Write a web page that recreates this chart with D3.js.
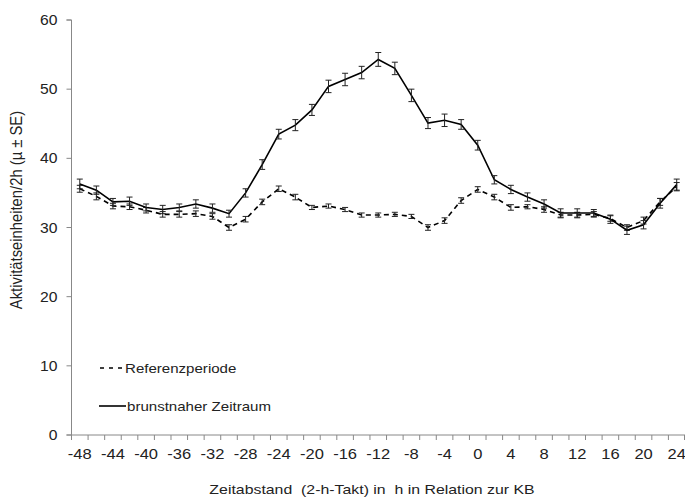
<!DOCTYPE html>
<html><head><meta charset="utf-8">
<script src="https://cdn.jsdelivr.net/npm/d3@7"></script>
<style>body{margin:0;background:#fff;} svg{display:block;font-family:"Liberation Sans",Arial,sans-serif;} text{white-space:pre;}</style>
</head><body>
<svg id="c" width="685" height="497"></svg>
<script>
const hours = [-48,-46,-44,-42,-40,-38,-36,-34,-32,-30,-28,-26,-24,-22,-20,-18,-16,-14,-12,-10,-8,-6,-4,-2,0,2,4,6,8,10,12,14,16,18,20,22,24];
const brunst = [36.3,35.4,33.7,33.8,32.9,32.6,32.9,33.4,32.8,32.0,35.0,39.1,43.5,44.8,47.0,50.4,51.4,52.4,54.3,53.0,49.1,45.1,45.5,44.9,41.9,36.9,35.5,34.4,33.4,32.1,32.1,32.1,31.2,29.6,30.4,33.5,36.2];
const brunstSE = [0.7,0.6,0.5,0.6,0.5,0.6,0.5,0.6,0.6,0.5,0.6,0.7,0.7,0.8,0.8,0.9,0.9,0.9,1.0,0.9,0.9,0.8,0.9,0.7,0.7,0.6,0.6,0.6,0.6,0.6,0.6,0.5,0.6,0.6,0.6,0.7,0.8];
const referenz = [35.6,34.5,33.1,33.0,32.5,31.9,31.9,32.0,31.6,30.0,31.2,33.7,35.6,34.4,32.9,33.1,32.6,31.8,31.8,31.9,31.6,30.0,31.0,33.9,35.5,34.4,32.9,33.0,32.6,31.8,31.8,31.9,31.3,30.0,31.0,33.7,35.9];
const referenzSE = [0.5,0.5,0.4,0.4,0.4,0.4,0.4,0.4,0.4,0.4,0.4,0.4,0.4,0.4,0.3,0.3,0.3,0.3,0.3,0.3,0.3,0.4,0.4,0.4,0.4,0.4,0.4,0.3,0.4,0.4,0.4,0.4,0.4,0.4,0.5,0.5,0.6];
const xLabels = hours.filter((h,i)=>i%2===0);
const yTicks = [0,10,20,30,40,50,60];
const seriesNames = ["Referenzperiode","brunstnaher Zeitraum"];

const svg = d3.select("#c");
const L = 71.5, R = 685, T = 20, B = 435;
const x = d3.scaleBand().domain(hours).range([L, R]);
const y = d3.scaleLinear().domain([0,60]).range([B, T]);
const cx = h => x(h) + x.bandwidth()/2;
const TXT = "#222";

function stext(px, py, str, size, anchor, sx){
  const g = svg.append("g").attr("transform",`translate(${px},${py}) scale(${sx},1)`);
  g.append("text").attr("text-anchor",anchor).attr("font-size",size+"px").attr("fill",TXT).text(str);
}

// y axis
svg.append("path").attr("d",`M${L-5},${B}H${L}V${T}H${L-5}`).attr("fill","none").attr("stroke","#888");
svg.selectAll("line.yt").data(yTicks).join("line").attr("class","yt")
  .attr("x1",L-5).attr("x2",L).attr("y1",d=>y(d)).attr("y2",d=>y(d)).attr("stroke","#888");
yTicks.forEach(t=>stext(57.5, y(t)+5, String(t), 14, "end", 1.12));

// x axis
svg.append("line").attr("x1",L).attr("x2",R).attr("y1",B).attr("y2",B).attr("stroke","#888");
const bounds = hours.map(h=>x(h)).concat([R-0.5]);
svg.selectAll("line.tk").data(bounds).join("line").attr("class","tk")
  .attr("x1",d=>d).attr("x2",d=>d).attr("y1",B).attr("y2",B+5).attr("stroke","#888");
xLabels.forEach(h=>stext(cx(h), B+24, String(h), 14, "middle", 1.18));

// titles
svg.append("text").attr("transform",`translate(22,210) rotate(-90) scale(1,1.15)`)
  .attr("text-anchor","middle").attr("font-size","14.8px").attr("fill",TXT)
  .text("Aktivitätseinheiten/2h (µ ± SE)");
stext(372, 494, "Zeitabstand  (2-h-Takt) in  h in Relation zur KB", 13, "middle", 1.22);

function drawSeries(vals, se, dash){
  const line = d3.line().x((d,i)=>cx(hours[i])).y(d=>y(d));
  svg.append("path").datum(vals).attr("d",line).attr("fill","none")
    .attr("stroke","#000").attr("stroke-width",1.6)
    .attr("stroke-dasharray",dash||null);
  const g = svg.append("g");
  vals.forEach((v,i)=>{
    const xx = cx(hours[i]), y1 = y(v+se[i]), y2 = y(v-se[i]);
    g.append("line").attr("x1",xx).attr("x2",xx).attr("y1",y1).attr("y2",y2).attr("stroke","#222").attr("stroke-width",1);
    g.append("line").attr("x1",xx-3).attr("x2",xx+3).attr("y1",y1).attr("y2",y1).attr("stroke","#222").attr("stroke-width",1);
    g.append("line").attr("x1",xx-3).attr("x2",xx+3).attr("y1",y2).attr("y2",y2).attr("stroke","#222").attr("stroke-width",1);
  });
}
drawSeries(referenz, referenzSE, "5,4");
drawSeries(brunst, brunstSE, null);

// legend
const leg = [{name:seriesNames[0],dash:"4,5",y:368,tb:373,x1:100,x2:123,tx:125},{name:seriesNames[1],dash:null,y:406,tb:411,x1:99,x2:126,tx:127}];
leg.forEach(d=>{
  svg.append("line").attr("x1",d.x1).attr("x2",d.x2).attr("y1",d.y).attr("y2",d.y)
    .attr("stroke","#000").attr("stroke-width",1.6).attr("stroke-dasharray",d.dash);
  stext(d.tx, d.tb, d.name, 13, "start", 1.16);
});
</script>
</body></html>
